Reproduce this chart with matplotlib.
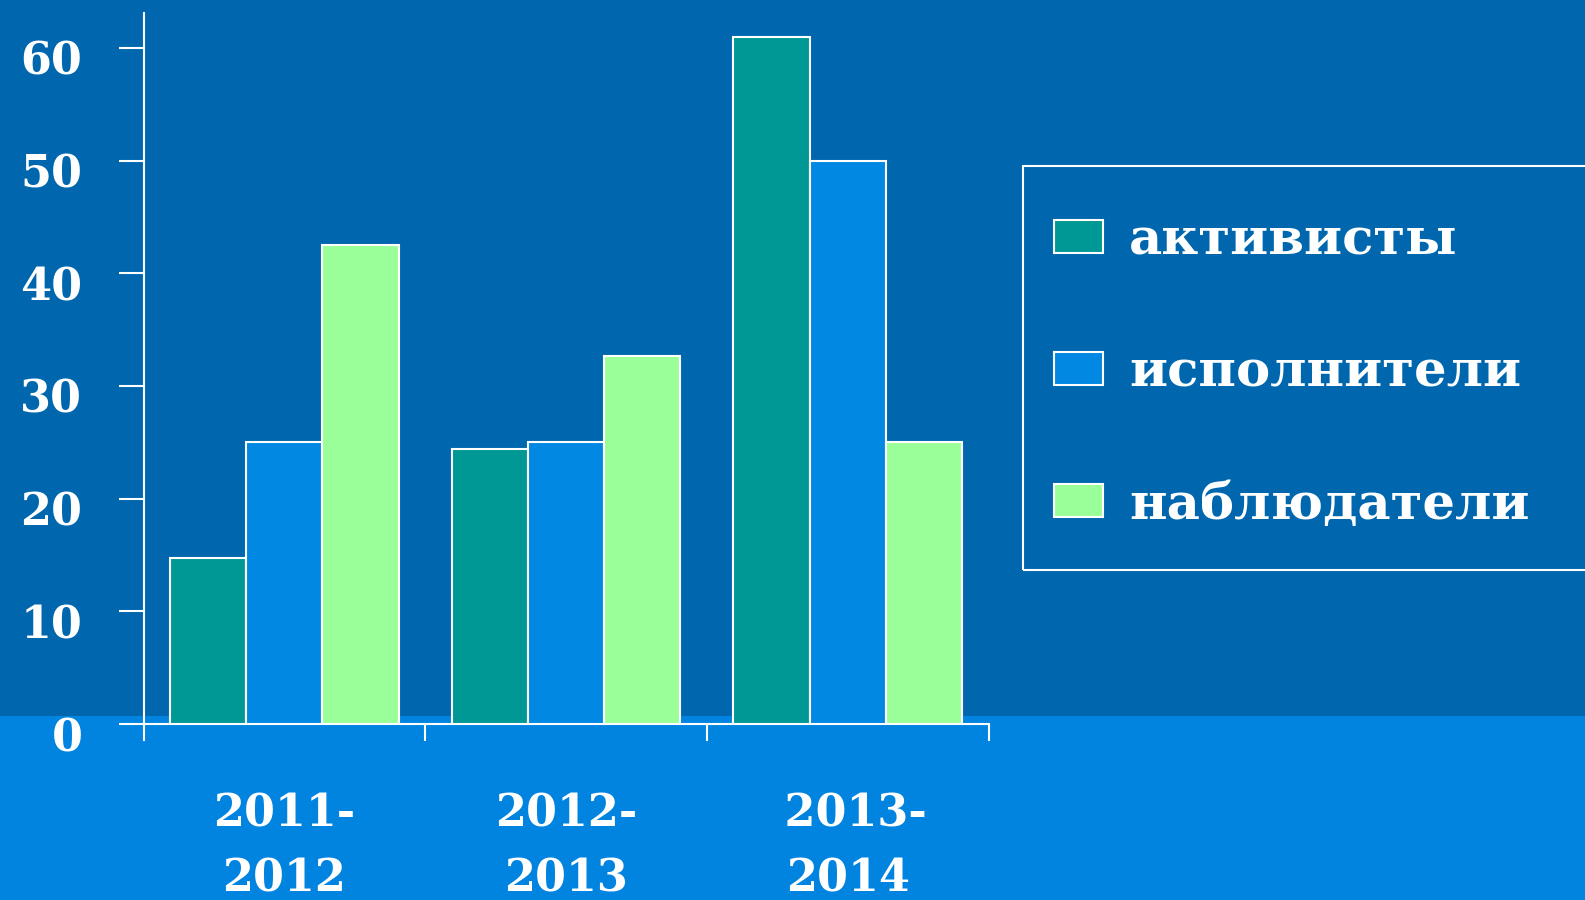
import matplotlib
matplotlib.use("Agg")
import matplotlib.pyplot as plt
import matplotlib.transforms as mtransforms
from matplotlib.patches import Rectangle
import numpy as np

# данные диаграммы
years = ['2011-\n2012', '2012-\n2013', ' 2013-\n2014']
series = ['активисты', 'исполнители', 'наблюдатели']
aktivisty = [14.7, 24.4, 61]
ispolniteli = [25, 25, 50]
nabludateli = [42.5, 32.7, 25]

colors = ['#009894', '#0088E2', '#9BFF99']
bg_dark = '#0067AF'
bg_light = '#0084E0'

plt.rcParams['font.family'] = ['DejaVu Serif']
plt.rcParams['font.weight'] = 'bold'

W, H = 1585, 900
fig = plt.figure(figsize=(W / 100, H / 100), dpi=100)
fig.patch.set_facecolor(bg_dark)
# светлая полоса внизу слайда
fig.patches.append(Rectangle((0, 0), 1, (H - 716) / H, transform=fig.transFigure,
                             facecolor=bg_light, edgecolor='none', zorder=-5))
# рамка легенды (уходит за правый край)
fig.patches.append(Rectangle((1023 / W, (H - 570) / H), 0.5, (570 - 166) / H,
                             transform=fig.transFigure, facecolor='none',
                             edgecolor='white', linewidth=1.5, zorder=-4))

ax = fig.add_axes([143.5 / W, (H - 724) / H, 845 / W, 711 / H])
ax.set_facecolor('none')
ax.set_zorder(2)

x = np.arange(len(years))
w = 0.271
for i, (vals, name) in enumerate(zip([aktivisty, ispolniteli, nabludateli], series)):
    ax.bar(x + (i - 1) * w, vals, width=w, color=colors[i], edgecolor='white',
           linewidth=1.5, label=name, zorder=3)

ax.set_xlim(-0.5, 2.5)
ax.set_ylim(0, 63.1)

for s in ['top', 'right']:
    ax.spines[s].set_visible(False)
for s in ['left', 'bottom']:
    ax.spines[s].set_color('white')
    ax.spines[s].set_linewidth(1.5)

ax.set_yticks(range(0, 61, 10))
ax.tick_params(axis='y', direction='out', length=18, width=1.5, color='white',
               labelcolor='white', labelsize=32, pad=26)
ax.set_xticks(x)
ax.set_xticklabels(years, linespacing=1.65)
ax.set_xticks(np.arange(-0.5, 3, 1), minor=True)
ax.tick_params(axis='x', which='major', length=0, labelcolor='white', labelsize=32, pad=49)
ax.tick_params(axis='x', which='minor', direction='out', length=12, width=1.5, color='white')

# подписи оси Y чуть ниже делений, как на слайде
shift = mtransforms.ScaledTranslation(0, -10 / 100, fig.dpi_scale_trans)
for lab in ax.get_yticklabels():
    lab.set_transform(lab.get_transform() + shift)

fs = 37
em = fs * 100 / 72
leg = ax.legend(loc='center left', bbox_to_anchor=(1054 / W, 1 - 373 / H),
                bbox_transform=fig.transFigure, borderaxespad=0, borderpad=0,
                fontsize=fs, labelcolor='white', frameon=False,
                labelspacing=(134.5 - 1.0 * em) / em, handlelength=48.5 / em,
                handleheight=31.3 / em, handletextpad=26.5 / em)

fig.savefig('out.png', dpi=100, facecolor=fig.get_facecolor())
